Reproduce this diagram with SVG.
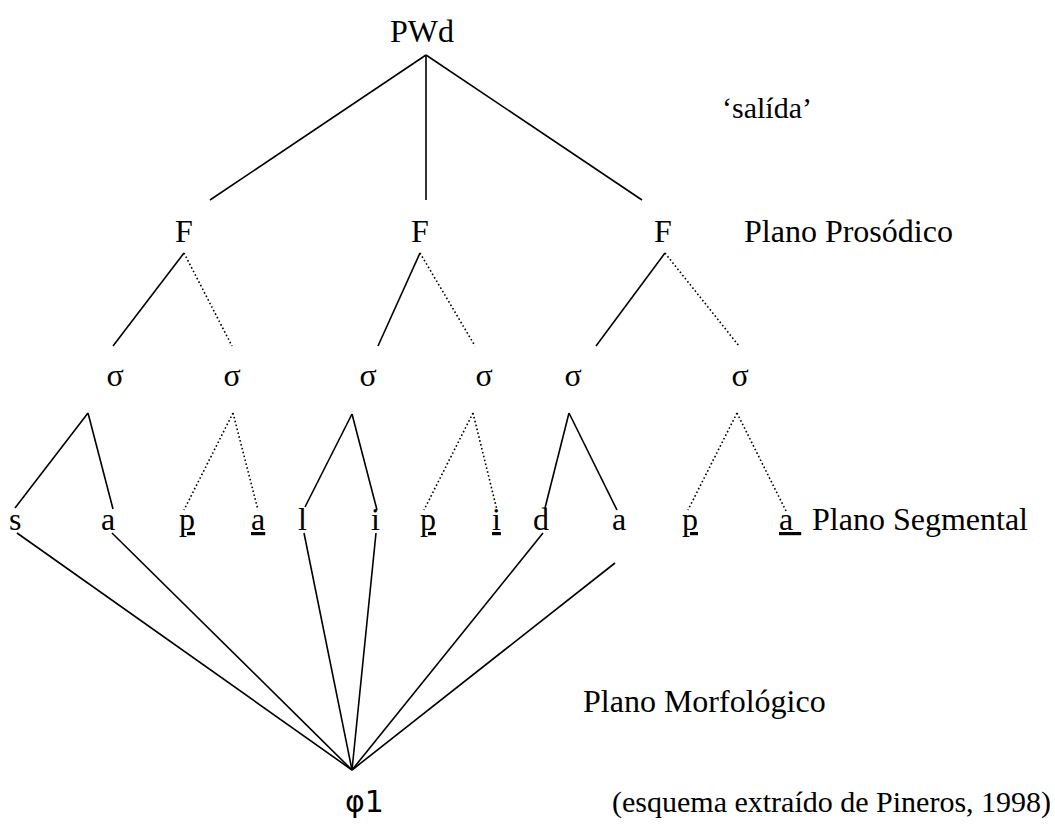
<svg xmlns="http://www.w3.org/2000/svg" width="1055" height="832" viewBox="0 0 1055 832">
<style>
.t{font-family:"Liberation Serif","Times New Roman",serif;font-size:32px;fill:#000}
.s{font-family:"DejaVu Sans","Liberation Sans",sans-serif;font-size:30px;fill:#000}
.u{text-decoration:underline}
.l{stroke:#000;stroke-width:1.6;fill:none}
.d{stroke:#000;stroke-width:1.6;fill:none;stroke-dasharray:1.6 2.4}
</style>
<rect width="1055" height="832" fill="#fff"/>
<g id="connectors">
<line class="l" x1="426" y1="55" x2="210" y2="200"/>
<line class="l" x1="426" y1="55" x2="426" y2="200"/>
<line class="l" x1="426" y1="55" x2="642" y2="200"/>
<line class="l" x1="184" y1="253" x2="113" y2="346"/>
<line class="d" x1="184" y1="253" x2="232" y2="346"/>
<line class="l" x1="420" y1="253" x2="378" y2="346"/>
<line class="d" x1="420" y1="253" x2="475" y2="346"/>
<line class="l" x1="665" y1="253" x2="596" y2="346"/>
<line class="d" x1="665" y1="253" x2="739" y2="346"/>
<line class="l" x1="88" y1="413" x2="15" y2="508"/>
<line class="l" x1="88" y1="413" x2="113" y2="509"/>
<line class="d" x1="233" y1="413" x2="184" y2="510"/>
<line class="d" x1="233" y1="413" x2="258" y2="510"/>
<line class="l" x1="352" y1="414" x2="305" y2="507"/>
<line class="l" x1="352" y1="414" x2="377" y2="510"/>
<line class="d" x1="473" y1="413" x2="424" y2="510"/>
<line class="d" x1="473" y1="413" x2="497" y2="510"/>
<line class="l" x1="569" y1="413" x2="545" y2="508"/>
<line class="l" x1="569" y1="413" x2="617" y2="510"/>
<line class="d" x1="737" y1="413" x2="688" y2="510"/>
<line class="d" x1="737" y1="413" x2="786" y2="511"/>
<line class="l" x1="17" y1="533" x2="352" y2="770"/>
<line class="l" x1="112" y1="533" x2="352" y2="770"/>
<line class="l" x1="304" y1="533" x2="352" y2="770"/>
<line class="l" x1="376" y1="533" x2="352" y2="770"/>
<line class="l" x1="543" y1="533" x2="352" y2="770"/>
<line class="l" x1="615" y1="563" x2="352" y2="770"/>
</g>
<g id="PWd"><text class="t" x="390" y="42">PWd</text></g>
<g id="gloss"><text class="t" x="722" y="118" style="font-size:30px">‘salída’</text></g>
<g id="F1"><text class="t" x="184" y="242" text-anchor="middle">F</text></g>
<g id="F2"><text class="t" x="420" y="242" text-anchor="middle">F</text></g>
<g id="F3"><text class="t" x="663" y="242" text-anchor="middle">F</text></g>
<g id="label-prosodic"><text class="t" x="744" y="242">Plano Prosódico</text></g>
<g id="sigma1"><text class="t" x="115" y="386" text-anchor="middle">σ</text></g>
<g id="sigma2"><text class="t" x="232" y="386" text-anchor="middle">σ</text></g>
<g id="sigma3"><text class="t" x="368" y="386" text-anchor="middle">σ</text></g>
<g id="sigma4"><text class="t" x="484" y="386" text-anchor="middle">σ</text></g>
<g id="sigma5"><text class="t" x="573" y="386" text-anchor="middle">σ</text></g>
<g id="sigma6"><text class="t" x="740" y="386" text-anchor="middle">σ</text></g>
<g id="seg-s"><text class="t" x="9" y="530">s</text></g>
<g id="seg-a1"><text class="t" x="101" y="530">a</text></g>
<g id="seg-p1"><text class="t u" x="179" y="530">p</text></g>
<g id="seg-a2"><text class="t u" x="251" y="530">a</text></g>
<g id="seg-l"><text class="t" x="298" y="530">l</text></g>
<g id="seg-i1"><text class="t" x="371" y="530">i</text></g>
<g id="seg-p2"><text class="t u" x="420" y="530">p</text></g>
<g id="seg-i2"><text class="t u" x="492" y="530">i</text></g>
<g id="seg-d"><text class="t" x="533" y="530">d</text></g>
<g id="seg-a3"><text class="t" x="612" y="530">a</text></g>
<g id="seg-p3"><text class="t u" x="682" y="530">p</text></g>
<g id="seg-a4"><text class="t u" x="779" y="530" xml:space="preserve">a </text></g>
<g id="label-segmental"><text class="t" x="812" y="530">Plano Segmental</text></g>
<g id="label-morph"><text class="t" x="583" y="712">Plano Morfológico</text></g>
<g id="phi1"><text class="s" x="345" y="812">φ1</text></g>
<g id="source"><text class="t" x="612" y="812" style="font-size:30px">(esquema extraído de Pineros, 1998)</text></g>
</svg>
